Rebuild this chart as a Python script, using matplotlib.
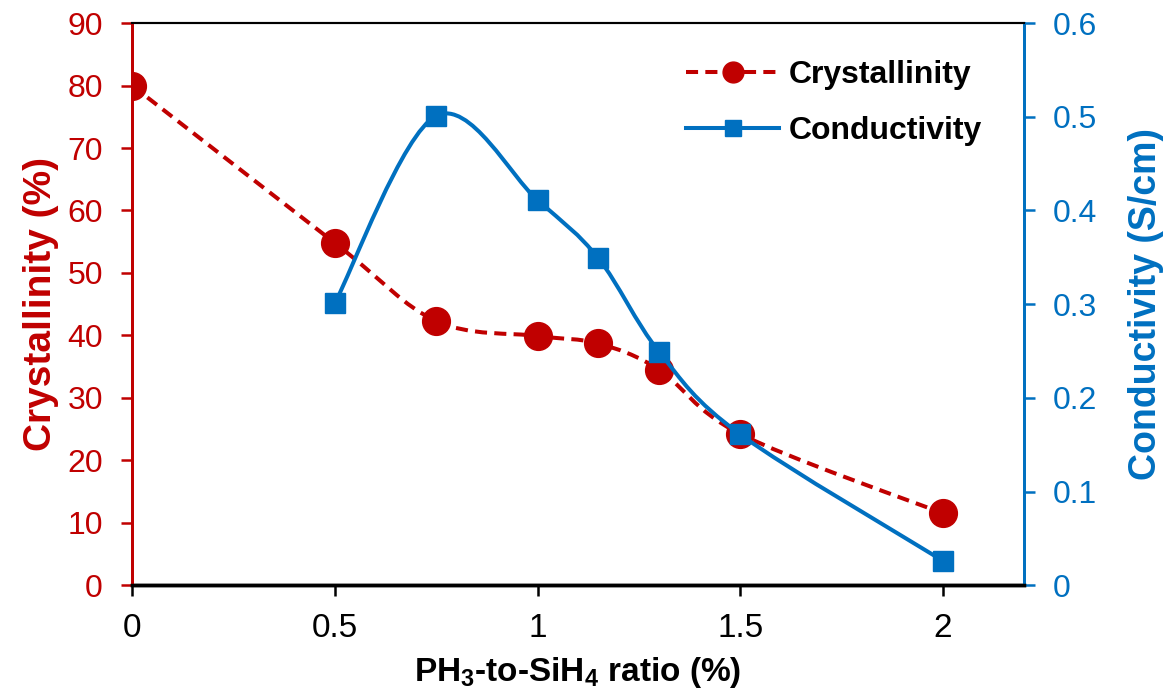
import matplotlib
matplotlib.use("Agg")
import matplotlib.pyplot as plt
from matplotlib.path import Path
from matplotlib.patches import PathPatch
from matplotlib.lines import Line2D

# ----------------------------
# Data
# ----------------------------
ratio_cryst = [0, 0.5, 0.75, 1.0, 1.15, 1.3, 1.5, 2.0]
crystallinity = [80.0, 54.8, 42.3, 39.9, 38.7, 34.5, 24.2, 11.5]

ratio_cond = [0.5, 0.75, 1.0, 1.15, 1.3, 1.5, 2.0]
conductivity = [0.301, 0.501, 0.411, 0.349, 0.249, 0.161, 0.026]

RED = "#C00000"
BLUE = "#0070C0"


def smooth_path(xs, ys):
    # Excel-style smoothed line (Catmull-Rom as cubic Bezier)
    pts = list(zip(xs, ys))
    n = len(pts)
    verts = [pts[0]]
    codes = [Path.MOVETO]
    for i in range(n - 1):
        p0 = pts[i - 1] if i > 0 else pts[i]
        p1 = pts[i]
        p2 = pts[i + 1]
        p3 = pts[i + 2] if i + 2 < n else pts[i + 1]
        c1 = (p1[0] + (p2[0] - p0[0]) / 6, p1[1] + (p2[1] - p0[1]) / 6)
        c2 = (p2[0] - (p3[0] - p1[0]) / 6, p2[1] - (p3[1] - p1[1]) / 6)
        verts += [c1, c2, p2]
        codes += [Path.CURVE4] * 3
    return Path(verts, codes)


# ----------------------------
# Plot styling
# ----------------------------
plt.rcParams.update(
    {
        "font.family": ["Liberation Sans", "DejaVu Sans"],
        "font.size": 22,
        "mathtext.fontset": "custom",
        "mathtext.bf": "Liberation Sans:bold",
        "mathtext.rm": "Liberation Sans",
    }
)

fig = plt.figure(figsize=(11.69, 7.0), dpi=100)
ax = fig.add_axes([0.113, 0.164, 0.763, 0.803])
ax2 = ax.twinx()

# crystallinity (left axis)
ax.add_patch(
    PathPatch(smooth_path(ratio_cryst, crystallinity), fill=False,
              edgecolor=RED, linewidth=2.9, linestyle=(0, (3, 1.8)), zorder=3)
)
ax.plot(ratio_cryst, crystallinity, linestyle="none", marker="o",
        markersize=20, color=RED, zorder=4)

# conductivity (right axis)
ax2.add_patch(
    PathPatch(smooth_path(ratio_cond, conductivity), fill=False,
              edgecolor=BLUE, linewidth=2.9, zorder=3)
)
ax2.plot(ratio_cond, conductivity, linestyle="none", marker="s",
         markersize=15, color=BLUE, zorder=4)

ax.set_xlim(0, 2.2)
ax.set_ylim(0, 90)
ax2.set_ylim(0, 0.6)
ax.set_xticks([0, 0.5, 1, 1.5, 2])
ax.set_xticklabels(["0", "0.5", "1", "1.5", "2"])
ax.set_yticks(range(0, 91, 10))
ax2.set_yticks([0, 0.1, 0.2, 0.3, 0.4, 0.5, 0.6])
ax2.set_yticklabels(["0", "0.1", "0.2", "0.3", "0.4", "0.5", "0.6"])

ax.tick_params(axis="x", direction="out", length=8, width=1.8, pad=12, labelsize=24)
ax.tick_params(axis="y", direction="out", length=8, width=1.8, pad=13,
               colors=RED, labelsize=23)
ax2.tick_params(axis="y", direction="out", length=8, width=1.8, pad=13,
                colors=BLUE, labelsize=23)

for a in (ax, ax2):
    a.spines["left"].set_color(RED)
    a.spines["right"].set_color(BLUE)
    a.spines["left"].set_linewidth(2)
    a.spines["right"].set_linewidth(2)
    a.spines["bottom"].set_linewidth(2.5)
    a.spines["top"].set_linewidth(1.5)

ax.set_ylabel("Crystallinity (%)", color=RED, fontweight="bold", fontsize=28, labelpad=6)
ax2.set_ylabel("Conductivity (S/cm)", color=BLUE, fontweight="bold", fontsize=27, labelpad=22)
ax.set_xlabel(r"PH$_\mathbf{3}$-to-SiH$_\mathbf{4}$ ratio (%)", fontweight="bold",
              fontsize=24, labelpad=8)

handles = [
    Line2D([], [], color=RED, linestyle=(0, (3, 1.8)), linewidth=2.9, marker="o", markersize=15),
    Line2D([], [], color=BLUE, linewidth=2.9, marker="s", markersize=12),
]
ax2.legend(handles, ["Crystallinity", "Conductivity"], loc="upper right",
           bbox_to_anchor=(0.985, 0.985), frameon=False, handlelength=2.9,
           handletextpad=0.3, prop={"weight": "bold", "size": 23}, labelspacing=0.8)

fig.savefig("out.png", dpi=100)
